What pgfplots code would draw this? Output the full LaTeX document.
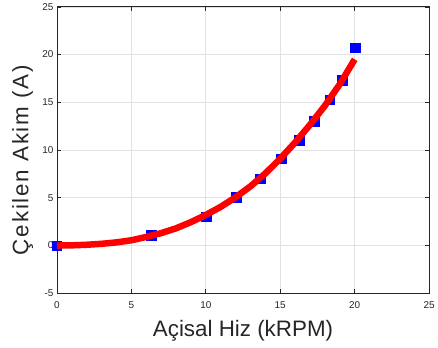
\documentclass[border=0pt]{standalone}
\usepackage{pgfplots}
\pgfplotsset{compat=1.18}
\usepackage{fontspec}
\setmainfont{Liberation Sans}
\newfontfamily\ylabfont[LetterSpace=8]{Liberation Sans}
\definecolor{axgray}{RGB}{38,38,38}
\definecolor{gridgray}{RGB}{225,225,225}
\begin{document}
\begin{tikzpicture}[x=1bp,y=1bp]
\begin{axis}[
  at={(0,0)}, anchor=south west,
  scale only axis, width=373bp, height=287bp,
  xmin=0, xmax=25, ymin=-5, ymax=25,
  xtick={0,5,...,25}, ytick={-5,0,...,25},
  xticklabels={0,5,10,15,20,25},
  yticklabels={-5,0,5,10,15,20,25},
  grid=major,
  major grid style={draw=gridgray, line width=0.6bp},
  axis line style={draw=axgray, line width=0.7bp},
  tick style={draw=axgray, line width=0.6bp},
  major tick length=4bp,
  tick align=inside,
  xtick pos=both, ytick pos=both,
  tick label style={font=\fontsize{10}{12}\selectfont, text=axgray},
  xticklabel style={anchor=base, yshift=-15bp},
  xlabel={Açisal Hiz (kRPM)},
  ylabel={Çekilen Akim (A)},
  label style={text=axgray, inner sep=0pt},
  xlabel style={font=\fontsize{22.5}{26}\selectfont, at={(axis description cs:0.5,-0.1498)}, anchor=base},
  ylabel style={font=\ylabfont\fontsize{22.5}{26}\selectfont, at={(axis description cs:-0.063,0.465)}, anchor=south},
  clip=false,
  clip marker paths=true,
]
\addplot[only marks, mark=square*, mark size=4.8bp, color=blue] coordinates {
(0,0) (6.35,1.08) (10.04,3.04) (12.04,5.04) (13.67,6.99) (15.07,9.09)
(16.29,11.02) (17.29,13.01) (18.33,15.28) (19.15,17.31) (20.04,20.73)
};
\addplot[red, line width=6.5bp, line join=round, line cap=butt] coordinates {
(0,0) (1,0.02) (2,0.08) (3,0.18) (4,0.33) (5,0.55) (6,0.9) (7,1.3) (8,1.8)
(9,2.45) (10,3.2) (11,4.05) (12,5.05) (13,6.2) (14,7.55) (15,9.1) (16,10.8)
(17,12.65) (18,14.65) (19,16.9) (20,19.5)
};
\end{axis}
\path (-57bp,-54bp) rectangle (381bp,292bp);
\end{tikzpicture}
\end{document}
